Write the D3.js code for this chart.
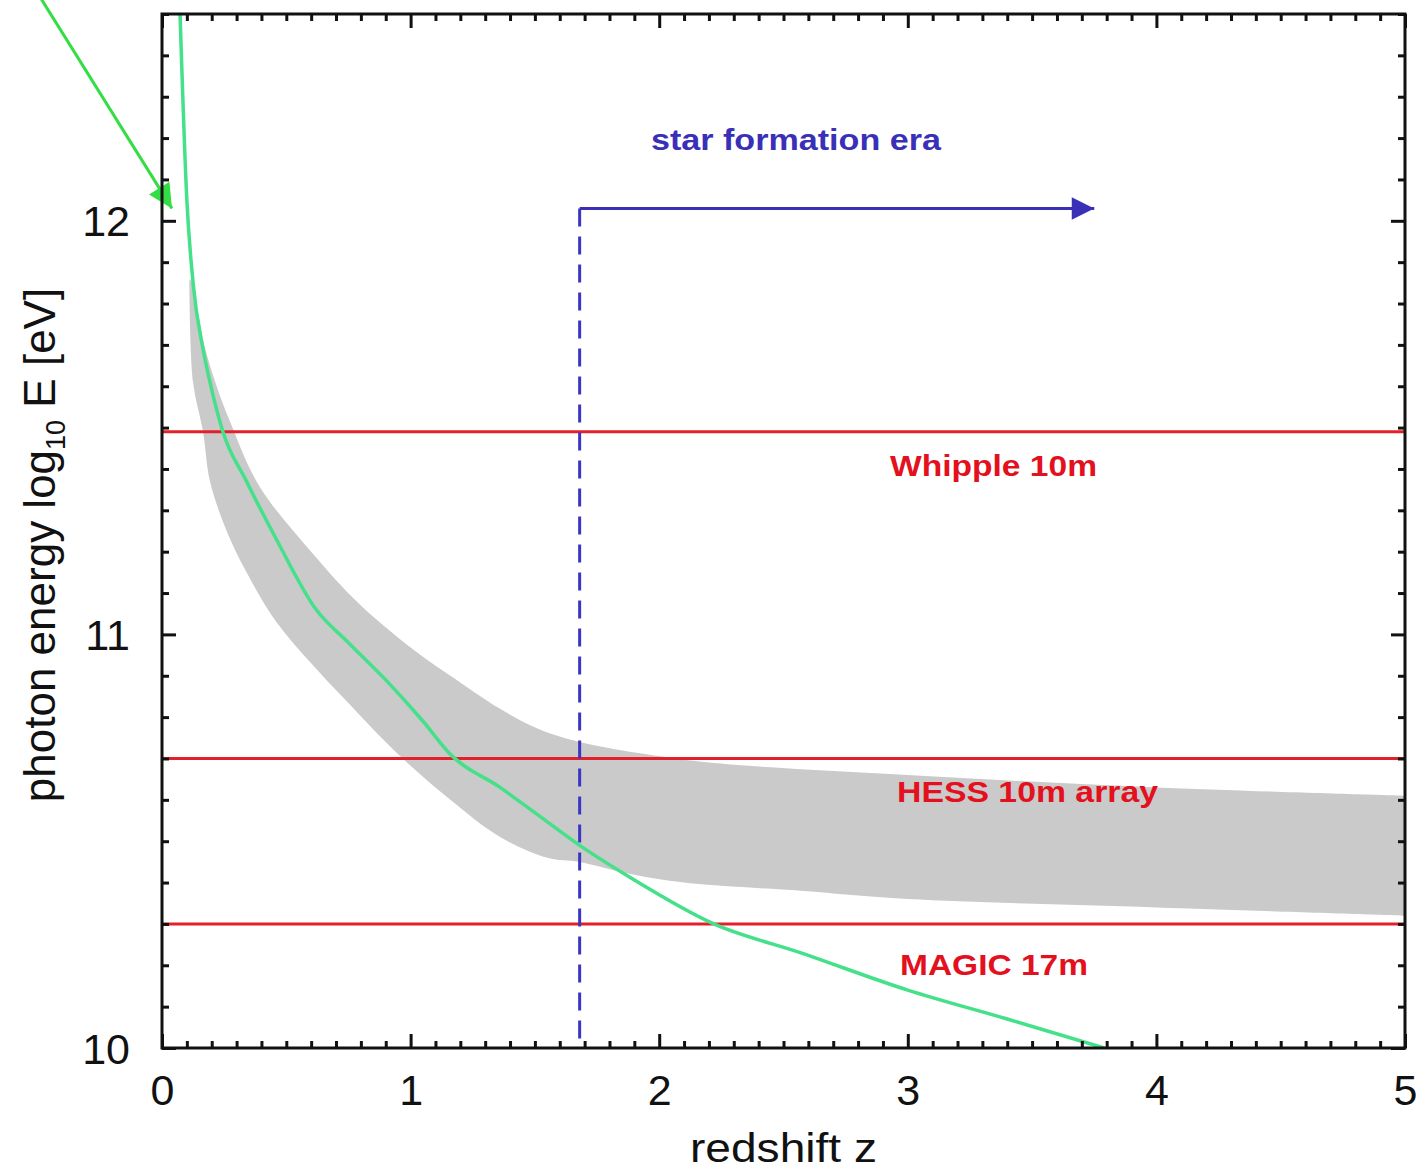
<!DOCTYPE html>
<html>
<head>
<meta charset="utf-8">
<script src="https://cdn.jsdelivr.net/npm/d3@7"></script>
<style>
  body { margin: 0; background: #fff; }
  svg text { font-family: "Liberation Sans", Arial, Helvetica, sans-serif; }
</style>
</head>
<body>
<div id="chart"></div>
<script>
// data
const greenZ = [0.07, 0.1, 0.125, 0.165, 0.193, 0.245, 0.34, 0.46, 0.62, 0.75, 0.9, 1.05, 1.16, 1.36, 1.52, 1.68, 1.89, 2.22, 2.57, 3.0, 3.4, 3.79];
const greenE = [12.55, 12.05, 11.85, 11.69, 11.61, 11.49, 11.37, 11.23, 11.06, 10.98, 10.89, 10.79, 10.71, 10.63, 10.56, 10.49, 10.41, 10.30, 10.23, 10.14, 10.07, 10.0];

const bandUpperZ = [0.11, 0.12, 0.17, 0.22, 0.27, 0.39, 0.6, 0.8, 1.04, 1.16, 1.36, 1.52, 1.68, 1.95, 2.2, 3, 4, 5];
const bandUpperE = [11.86, 11.85, 11.7, 11.6, 11.52, 11.36, 11.2, 11.07, 10.95, 10.9, 10.82, 10.77, 10.74, 10.71, 10.69, 10.66, 10.63, 10.61];
const bandLowerZ = [0.11, 0.125, 0.165, 0.193, 0.26, 0.34, 0.46, 0.6, 0.74, 0.95, 1.16, 1.36, 1.55, 1.68, 1.89, 2.1, 2.57, 3, 4, 5];
const bandLowerE = [11.86, 11.61, 11.49, 11.37, 11.25, 11.15, 11.03, 10.93, 10.84, 10.71, 10.6, 10.51, 10.46, 10.45, 10.42, 10.4, 10.38, 10.36, 10.34, 10.32];

const thresholdNames = ["Whipple 10m", "HESS 10m array", "MAGIC 17m"];
const thresholdE = [11.49, 10.70, 10.30];

const starEraZ = 1.68;
const starEraE = 12.03;
const starEraEndZ = 3.75;

const xTicks = [0, 1, 2, 3, 4, 5];
const yTicks = [10, 11, 12];

// layout
const margin = {top: 14, right: 11, bottom: 122, left: 162};
const W = 1416, H = 1170;
const width = W - margin.left - margin.right;
const height = H - margin.top - margin.bottom;

const svg = d3.select("#chart").append("svg")
    .attr("width", W)
    .attr("height", H);

const defs = svg.append("defs");
defs.append("clipPath").attr("id", "plotclip")
    .append("rect").attr("width", width).attr("height", height);
defs.append("marker").attr("id", "bluehead")
    .attr("viewBox", "0 0 10 10").attr("refX", 10).attr("refY", 5)
    .attr("markerWidth", 9).attr("markerHeight", 7.5)
    .attr("markerUnits", "strokeWidth").attr("orient", "auto")
    .append("path").attr("d", "M0,0L10,5L0,10z").attr("fill", "#3a30b8");
defs.append("marker").attr("id", "greenhead")
    .attr("viewBox", "0 0 10 10").attr("refX", 10).attr("refY", 5)
    .attr("markerWidth", 10).attr("markerHeight", 8)
    .attr("markerUnits", "strokeWidth").attr("orient", "auto")
    .append("path").attr("d", "M0,0L10,5L0,10z").attr("fill", "#33dd44");

const g = svg.append("g")
    .attr("transform", "translate(" + margin.left + "," + margin.top + ")");

const x = d3.scaleLinear().domain([0, 5]).range([0, width]);
const y = d3.scaleLinear().domain([10, 12.5]).range([height, 0]);

const plot = g.append("g").attr("clip-path", "url(#plotclip)");

// gray band: upper edge forward, lower edge backward
const edge = d3.line().x(d => x(d[0])).y(d => y(d[1])).curve(d3.curveCatmullRom);
const upperPts = bandUpperZ.map((z, i) => [z, bandUpperE[i]]);
const lowerPts = bandLowerZ.map((z, i) => [z, bandLowerE[i]]).reverse();
plot.append("path")
    .attr("d", edge(upperPts) + edge(lowerPts).replace(/^M/, "L") + "Z")
    .attr("fill", "#cacaca")
    .attr("stroke", "none");

// detector threshold lines
plot.selectAll(".thr")
    .data(thresholdE)
    .enter().append("line")
    .attr("class", "thr")
    .attr("x1", 0).attr("x2", width)
    .attr("y1", d => y(d)).attr("y2", d => y(d))
    .attr("stroke", "#e3202a")
    .attr("stroke-width", 3);

// star formation era dashed line
plot.append("line")
    .attr("x1", x(starEraZ)).attr("x2", x(starEraZ))
    .attr("y1", y(starEraE)).attr("y2", height)
    .attr("stroke", "#3a35c4")
    .attr("stroke-width", 3)
    .attr("stroke-dasharray", "18,10");

// green curve
const greenPts = greenZ.map((z, i) => [z, greenE[i]]);
plot.append("path")
    .attr("d", d3.line().x(d => x(d[0])).y(d => y(d[1])).curve(d3.curveMonotoneX)(greenPts))
    .attr("fill", "none")
    .attr("stroke", "#45e08a")
    .attr("stroke-width", 3.5);

// star formation arrow
g.append("line")
    .attr("x1", x(starEraZ)).attr("x2", x(starEraEndZ))
    .attr("y1", y(starEraE)).attr("y2", y(starEraE))
    .attr("stroke", "#3a30b8")
    .attr("stroke-width", 3)
    .attr("marker-end", "url(#bluehead)");

g.append("text")
    .attr("x", x(2.55)).attr("y", y(12.17))
    .attr("text-anchor", "middle")
    .attr("font-size", 29).attr("font-weight", "bold")
    .attr("fill", "#3a30b8")
    .attr("textLength", 290).attr("lengthAdjust", "spacingAndGlyphs")
    .text("star formation era");

// threshold labels
const labelX = [890, 897, 900];
const labelW = [207, 261, 188];
const labelY = [476, 802, 975];
g.selectAll(".thrlab")
    .data(thresholdNames)
    .enter().append("text")
    .attr("class", "thrlab")
    .attr("x", (d, i) => labelX[i] - margin.left)
    .attr("y", (d, i) => labelY[i] - margin.top)
    .attr("font-size", 30).attr("font-weight", "bold")
    .attr("fill", "#e3101e")
    .attr("textLength", (d, i) => labelW[i]).attr("lengthAdjust", "spacingAndGlyphs")
    .text(d => d);

// green arrow from outside the frame
g.append("line")
    .attr("x1", x(-0.5)).attr("y1", y(12.55))
    .attr("x2", x(0.04)).attr("y2", y(12.03))
    .attr("stroke", "#33dd44")
    .attr("stroke-width", 3)
    .attr("marker-end", "url(#greenhead)");

// axes with inward ticks on all four sides
function tickAxis(axis, scale, major, minorStep, cls, transform) {
    const minor = d3.range(scale.domain()[0], scale.domain()[1] + 1e-9, minorStep)
        .filter(v => Math.abs(v - Math.round(v)) > 1e-6);
    g.append("g").attr("transform", transform)
        .call(axis(scale).tickValues(minor).tickSize(-7).tickFormat(""))
        .call(s => s.select(".domain").remove());
    return g.append("g").attr("class", cls).attr("transform", transform)
        .call(axis(scale).tickValues(major).tickSize(-14).tickPadding(14).tickFormat(d3.format("d")));
}

const xb = tickAxis(d3.axisBottom, x, xTicks, 0.1, "xb", "translate(0," + height + ")");
const xt = tickAxis(d3.axisTop, x, xTicks, 0.1, "xt", "translate(0,0)");
const yl = tickAxis(d3.axisLeft, y, yTicks, 0.1, "yl", "translate(0,0)");
const yr = tickAxis(d3.axisRight, y, yTicks, 0.1, "yr", "translate(" + width + ",0)");

xt.selectAll("text").remove();
yr.selectAll("text").remove();
g.selectAll(".domain").remove();
g.selectAll(".tick line").attr("stroke", "#111").attr("stroke-width", 3);

xb.selectAll("text")
    .attr("font-size", 43).attr("fill", "#111")
    .attr("dy", "0.71em").attr("y", 26);
yl.selectAll("text")
    .attr("font-size", 43).attr("fill", "#111")
    .attr("x", -32).attr("dy", "0.35em");

// frame
g.append("rect")
    .attr("width", width).attr("height", height)
    .attr("fill", "none")
    .attr("stroke", "#111")
    .attr("stroke-width", 3);

// axis titles
svg.append("text")
    .attr("x", margin.left + width / 2).attr("y", 1162)
    .attr("text-anchor", "middle")
    .attr("font-size", 40).attr("fill", "#111")
    .attr("textLength", 187).attr("lengthAdjust", "spacingAndGlyphs")
    .text("redshift z");

const yt = svg.append("text")
    .attr("transform", "translate(55,545) rotate(-90)")
    .attr("text-anchor", "middle")
    .attr("font-size", 44).attr("fill", "#111");
yt.append("tspan").text("photon energy log");
yt.append("tspan").attr("font-size", 27).attr("dy", 10).text("10");
yt.append("tspan").attr("dy", -10).text(" E [eV]");
</script>
</body>
</html>
